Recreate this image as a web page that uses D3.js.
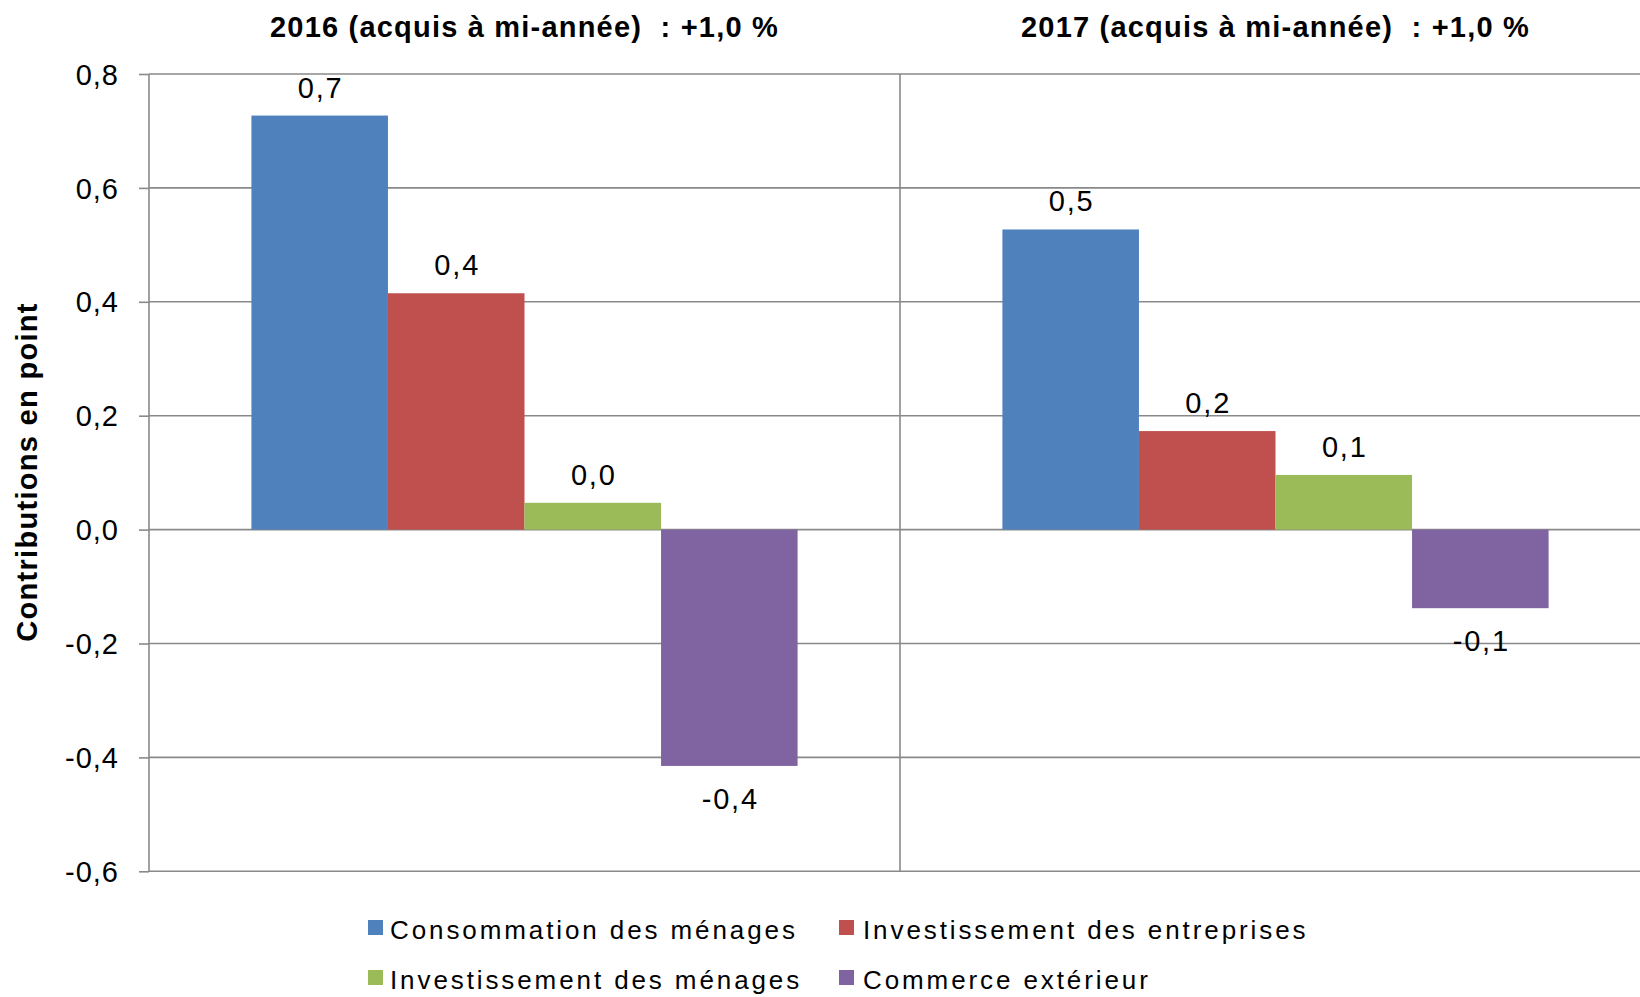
<head>
<style>
    body { margin: 0; background: #fff; }
    text { font-family: "Liberation Sans", Arial, sans-serif; fill: #000; }
</style>
</head>
<body>
    <div id='chart'></div>
    <script src='https://cdn.jsdelivr.net/npm/d3@7/dist/d3.min.js'></script>
    <script>
        var width = 1640,
            height = 997;

        // data
        var years = ['2016', '2017'];
        var titles = ['2016 (acquis à mi-année)  : +1,0 %', '2017 (acquis à mi-année)  : +1,0 %'];
        var series = ['Consommation des ménages', 'Investissement des entreprises', 'Investissement des ménages', 'Commerce extérieur'];
        var colors = ['#4F81BD', '#C0504D', '#9BBB59', '#8064A2'];
        var values2016 = [0.727, 0.415, 0.047, -0.415];
        var values2017 = [0.527, 0.173, 0.096, -0.138];
        var yTicks = [-0.6, -0.4, -0.2, 0, 0.2, 0.4, 0.6, 0.8];

        var valuesByYear = [values2016, values2017];

        var locale = d3.formatLocale({decimal: ',', thousands: ' ', grouping: [3], currency: ['', ' €'], minus: '-'});
        var fmt = locale.format('.1f');

        var plotLeft = 149, plotTop = 74, plotBottom = 871.3;

        var svg = d3.select('#chart')
            .append('svg')
            .attr('width', width)
            .attr('height', height);

        var x0 = d3.scaleBand()
            .domain(years)
            .range([plotLeft, plotLeft + 2 * 751]);

        var x1 = d3.scaleBand()
            .domain(series)
            .range([0, x0.bandwidth()])
            .paddingOuter(0.75);

        var y = d3.scaleLinear()
            .domain([-0.6, 0.8])
            .range([plotBottom, plotTop]);

        // ticks + labels via axis
        var yAxis = svg.append('g')
            .attr('transform', 'translate(' + plotLeft + ',0)')
            .call(d3.axisLeft(y).tickValues(yTicks).tickFormat(fmt).tickSize(10).tickPadding(20));

        yAxis.select('.domain').remove();
        yAxis.selectAll('.tick line')
            .attr('stroke', '#898989')
            .attr('stroke-width', 1.6);
        yAxis.selectAll('.tick text')
            .attr('font-size', 29)
            .attr('letter-spacing', 1)
            .attr('font-family', '"Liberation Sans", Arial, sans-serif')
            .attr('fill', '#000')
            .attr('dy', '0.35em');

        // horizontal gridlines
        svg.append('g')
            .selectAll('line')
            .data(yTicks)
            .enter().append('line')
            .attr('x1', plotLeft)
            .attr('x2', width)
            .attr('y1', function(d){ return y(d); })
            .attr('y2', function(d){ return y(d); })
            .attr('stroke', '#898989')
            .attr('stroke-width', 1.6);

        // vertical axis line and category separators
        svg.append('g')
            .selectAll('line')
            .data(years.concat(['end']))
            .enter().append('line')
            .attr('x1', function(d, i){ return plotLeft + i * x0.bandwidth(); })
            .attr('x2', function(d, i){ return plotLeft + i * x0.bandwidth(); })
            .attr('y1', plotTop)
            .attr('y2', plotBottom)
            .attr('stroke', '#898989')
            .attr('stroke-width', 1.6);

        // bars
        var groups = svg.append('g')
            .selectAll('g')
            .data(years)
            .enter().append('g')
            .attr('transform', function(d){ return 'translate(' + x0(d) + ',0)'; });

        groups.selectAll('rect')
            .data(function(d, i){ return valuesByYear[i].map(function(v, j){ return {s: series[j], v: v, c: colors[j]}; }); })
            .enter().append('rect')
            .attr('x', function(d){ return x1(d.s); })
            .attr('width', x1.bandwidth())
            .attr('y', function(d){ return d.v >= 0 ? y(d.v) : y(0); })
            .attr('height', function(d){ return Math.abs(y(d.v) - y(0)); })
            .attr('fill', function(d){ return d.c; });

        groups.selectAll('text')
            .data(function(d, i){ return valuesByYear[i].map(function(v, j){ return {s: series[j], v: v}; }); })
            .enter().append('text')
            .attr('x', function(d){ return x1(d.s) + x1.bandwidth() / 2 + 1; })
            .attr('y', function(d){ return d.v >= 0 ? y(d.v) - 18 : y(d.v) + 43; })
            .attr('text-anchor', 'middle')
            .attr('font-size', 29)
            .attr('letter-spacing', 1.8)
            .text(function(d){ return fmt(d.v); });

        // panel titles
        svg.append('g')
            .selectAll('text')
            .data(years)
            .enter().append('text')
            .attr('x', function(d){ return x0(d) + x0.bandwidth() / 2; })
            .attr('y', 37)
            .attr('text-anchor', 'middle')
            .attr('font-size', 29)
            .attr('letter-spacing', 1.2)
            .attr('font-weight', 'bold')
            .style('white-space', 'pre')
            .text(function(d, i){ return titles[i]; });

        // y title
        svg.append('text')
            .attr('transform', 'translate(37,472) rotate(-90)')
            .attr('text-anchor', 'middle')
            .attr('font-size', 29)
            .attr('letter-spacing', 1.3)
            .attr('font-weight', 'bold')
            .text('Contributions en point');

        // legend
        var legendPos = [[368, 920], [839, 920], [368, 970], [839, 970]];
        var legend = svg.append('g')
            .selectAll('g')
            .data(series)
            .enter().append('g')
            .attr('transform', function(d, i){ return 'translate(' + legendPos[i][0] + ',' + legendPos[i][1] + ')'; });

        legend.append('rect')
            .attr('width', 15)
            .attr('height', 15)
            .attr('fill', function(d, i){ return colors[i]; });

        legend.append('text')
            .attr('x', function(d, i){ return i % 2 ? 24 : 22; })
            .attr('y', 18.5)
            .attr('font-size', 26)
            .attr('letter-spacing', 2.9)
            .text(function(d){ return d; });
    </script>
</body>
